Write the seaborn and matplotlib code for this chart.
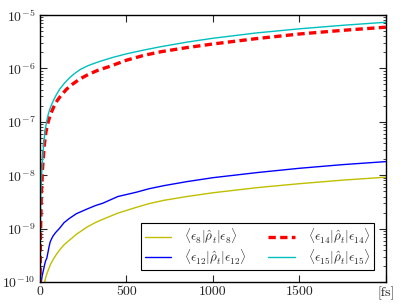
import matplotlib
matplotlib.use("Agg")
import matplotlib.pyplot as plt
import seaborn as sns
import pandas as pd
from matplotlib.ticker import LogLocator, FixedLocator, FixedFormatter, NullFormatter

# populations (time in fs)
t_e8 = [15, 20, 27, 36, 46, 60, 75, 95, 114, 140, 171, 210, 268, 320, 364, 450,
        556, 632, 718, 850, 1000, 1264, 1500, 1750, 2000]
p_e8 = [5e-11, 7e-11, 1e-10, 1.3e-10, 1.6e-10, 2.1e-10, 2.6e-10, 3.3e-10, 4.0e-10,
        5.0e-10, 6.1e-10, 7.8e-10, 1.05e-9, 1.3e-9, 1.5e-9, 1.95e-9, 2.5e-9, 2.95e-9,
        3.4e-9, 4.0e-9, 4.7e-9, 5.9e-9, 6.95e-9, 8.1e-9, 9.2e-9]

t_e12 = [4, 8, 14, 21, 27, 33, 40, 46, 53, 60, 68, 75, 90, 114, 140, 171, 210, 268,
         320, 364, 451, 556, 632, 718, 850, 1000, 1264, 1500, 1750, 2000]
p_e12 = [5e-11, 1e-10, 1.35e-10, 1.7e-10, 2.1e-10, 2.5e-10, 2.8e-10, 3.5e-10,
         4.6e-10, 5.7e-10, 6.5e-10, 7.2e-10, 8.4e-10, 1.02e-9, 1.3e-9, 1.56e-9,
         1.9e-9, 2.3e-9, 2.7e-9, 3.0e-9, 4.0e-9, 4.8e-9, 5.6e-9, 6.4e-9, 7.6e-9,
         9.0e-9, 1.13e-8, 1.35e-8, 1.58e-8, 1.8e-8]

t_e14 = [0.5, 3, 8, 15, 25, 35, 48, 62, 80, 100, 125, 155, 190, 230, 280, 335, 400,
         500, 600, 700, 850, 1000, 1250, 1500, 1750, 2000]
p_e14 = [5e-11, 6e-10, 4e-9, 1.3e-8, 3.5e-8, 6.5e-8, 1e-7, 1.4e-7, 1.9e-7, 2.5e-7,
         3.2e-7, 4.1e-7, 5.1e-7, 6.3e-7, 7.7e-7, 9.2e-7, 1.08e-6, 1.42e-6, 1.75e-6,
         2.05e-6, 2.45e-6, 2.86e-6, 3.6e-6, 4.4e-6, 5.15e-6, 5.9e-6]

t_e15 = [0.5, 2, 5, 10, 16, 24, 32, 40, 50, 62, 78, 95, 115, 140, 170, 200, 235, 280,
         340, 420, 500, 600, 700, 850, 1000, 1250, 1500, 1750, 2000]
p_e15 = [8e-11, 1e-9, 4e-9, 1e-8, 2.2e-8, 4.5e-8, 7.5e-8, 1.05e-7, 1.45e-7, 1.9e-7,
         2.5e-7, 3.2e-7, 4.1e-7, 5.2e-7, 6.6e-7, 8.0e-7, 9.6e-7, 1.13e-6, 1.33e-6,
         1.6e-6, 1.87e-6, 2.2e-6, 2.55e-6, 3.1e-6, 3.66e-6, 4.6e-6, 5.5e-6, 6.4e-6,
         7.3e-6]

labels = [r"$\langle\epsilon_{8}|\hat{\rho}_t|\epsilon_{8}\rangle$",
          r"$\langle\epsilon_{12}|\hat{\rho}_t|\epsilon_{12}\rangle$",
          r"$\langle\epsilon_{14}|\hat{\rho}_t|\epsilon_{14}\rangle$",
          r"$\langle\epsilon_{15}|\hat{\rho}_t|\epsilon_{15}\rangle$"]
xtick_vals = [0, 500, 1000, 1500, 2000]
xtick_labels = ["0", "500", "1000", "1500", "[fs]"]

sns.set_style("white")
plt.rcParams["mathtext.fontset"] = "cm"
plt.rcParams["font.family"] = ["cmr10", "DejaVu Serif"]
plt.rcParams["axes.formatter.use_mathtext"] = True
plt.rcParams["font.size"] = 10

fig = plt.figure(figsize=(4.07, 3.05), dpi=100)
ax = fig.add_axes([0.098, 0.075, 0.850, 0.876])

series = [(t_e8, p_e8, "#bfbf00", "-", 1.0),
          (t_e12, p_e12, "#0000ff", "-", 1.0),
          (t_e14, p_e14, "#ff0000", "--", 2.4),
          (t_e15, p_e15, "#00bfbf", "-", 1.0)]
for (t, p, col, ls, lw), lab in zip(series, labels):
    df = pd.DataFrame({"t": t, "p": p})
    sns.lineplot(data=df, x="t", y="p", ax=ax, color=col, lw=lw, label=lab)
    if ls == "--":
        ax.lines[-1].set_dashes((2.2, 1.3))

ax.set_yscale("log")
ax.set_xlim(0, 2000)
ax.set_ylim(1e-10, 1e-5)
ax.set_xlabel("")
ax.set_ylabel("")
ax.xaxis.set_major_locator(FixedLocator(xtick_vals))
ax.xaxis.set_major_formatter(FixedFormatter(xtick_labels))
ax.yaxis.set_major_locator(LogLocator(base=10, numticks=10))
ax.yaxis.set_minor_locator(LogLocator(base=10, subs=range(2, 10), numticks=10))
ax.yaxis.set_minor_formatter(NullFormatter())
ax.tick_params(which="both", direction="in", top=True, right=True, left=True, bottom=True)
ax.tick_params(which="major", length=5, width=0.8, labelsize=10, pad=3)
ax.tick_params(which="minor", length=2.5, width=0.6)
for s in ax.spines.values():
    s.set_color("black")
    s.set_linewidth(1.0)

leg = ax.legend(loc="lower right", ncol=2, fontsize=9.5, frameon=True, fancybox=False,
                edgecolor="black", framealpha=1, borderaxespad=0.9, columnspacing=1.6,
                handlelength=2.0, handletextpad=1.0, labelspacing=0.05, borderpad=0.25,
                bbox_to_anchor=(1.0, 0.0))
leg.get_frame().set_linewidth(0.8)

fig.savefig("out.png", dpi=100)
